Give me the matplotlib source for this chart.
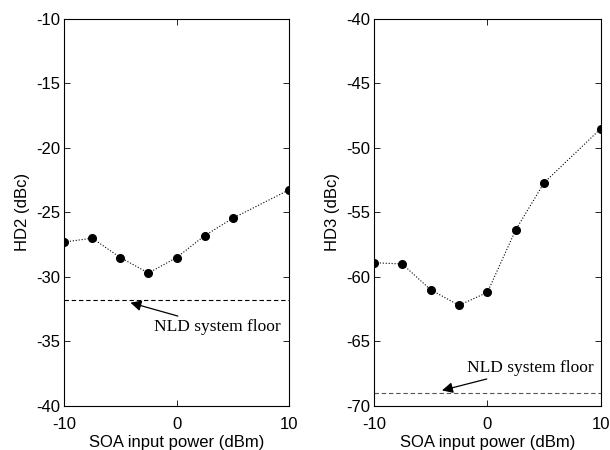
import matplotlib
matplotlib.use("Agg")
import matplotlib.pyplot as plt

plt.rcParams['font.family'] = ['Liberation Sans', 'DejaVu Sans']
plt.rcParams['axes.unicode_minus'] = False

power = [-10, -7.5, -5, -2.5, 0, 2.5, 5, 10]
hd2 = [-27.3, -27.0, -28.5, -29.7, -28.5, -26.8, -25.45, -23.25]
hd3 = [-58.9, -59.0, -61.0, -62.2, -61.2, -56.35, -52.7, -48.5]
hd2_floor = -31.8
hd3_floor = -69.0


def panel(ax, y, floor, ylim, yticks, ylabel, arrow_xy, text_xy, floor_color):
    ax.plot(power, y, linestyle=':', color='black', linewidth=0.8,
            marker='o', markersize=5.5, markerfacecolor='black', markeredgecolor='black')
    ax.axhline(floor, linestyle='--', color=floor_color, linewidth=0.8, dashes=(4, 2.5))
    ax.annotate('NLD system floor', xy=arrow_xy, xytext=text_xy,
                fontsize=12.5, family='Liberation Serif', va='center', ha='left',
                arrowprops=dict(arrowstyle='-|>', color='black', lw=0.9,
                                mutation_scale=16, shrinkA=1, shrinkB=0))
    ax.set_xlim(-10, 10)
    ax.set_ylim(*ylim)
    ax.set_xticks([-10, 0, 10])
    ax.set_yticks(yticks)
    ax.set_xlabel('SOA input power (dBm)', fontsize=12, labelpad=2)
    ax.set_ylabel(ylabel, fontsize=12, labelpad=4)
    ax.tick_params(direction='in', top=True, right=True, labelsize=12, length=4, width=0.6, pad=3)
    ax.tick_params(axis='x', pad=8)
    for s in ax.spines.values():
        s.set_linewidth(0.8)


fig = plt.figure(figsize=(6.1, 4.5), dpi=100)
ax1 = fig.add_axes([0.105, 0.098, 0.369, 0.86])
ax2 = fig.add_axes([0.613, 0.098, 0.372, 0.86])

panel(ax1, hd2, hd2_floor, (-40, -10), range(-40, -9, 5), 'HD2 (dBc)',
      (-4.1, -32.0), (-2.0, -33.9), 'black')
panel(ax2, hd3, hd3_floor, (-70, -40), range(-70, -39, 5), 'HD3 (dBc)',
      (-4.0, -68.8), (-1.8, -67.05), '#555555')

fig.savefig('out.png', dpi=100)
